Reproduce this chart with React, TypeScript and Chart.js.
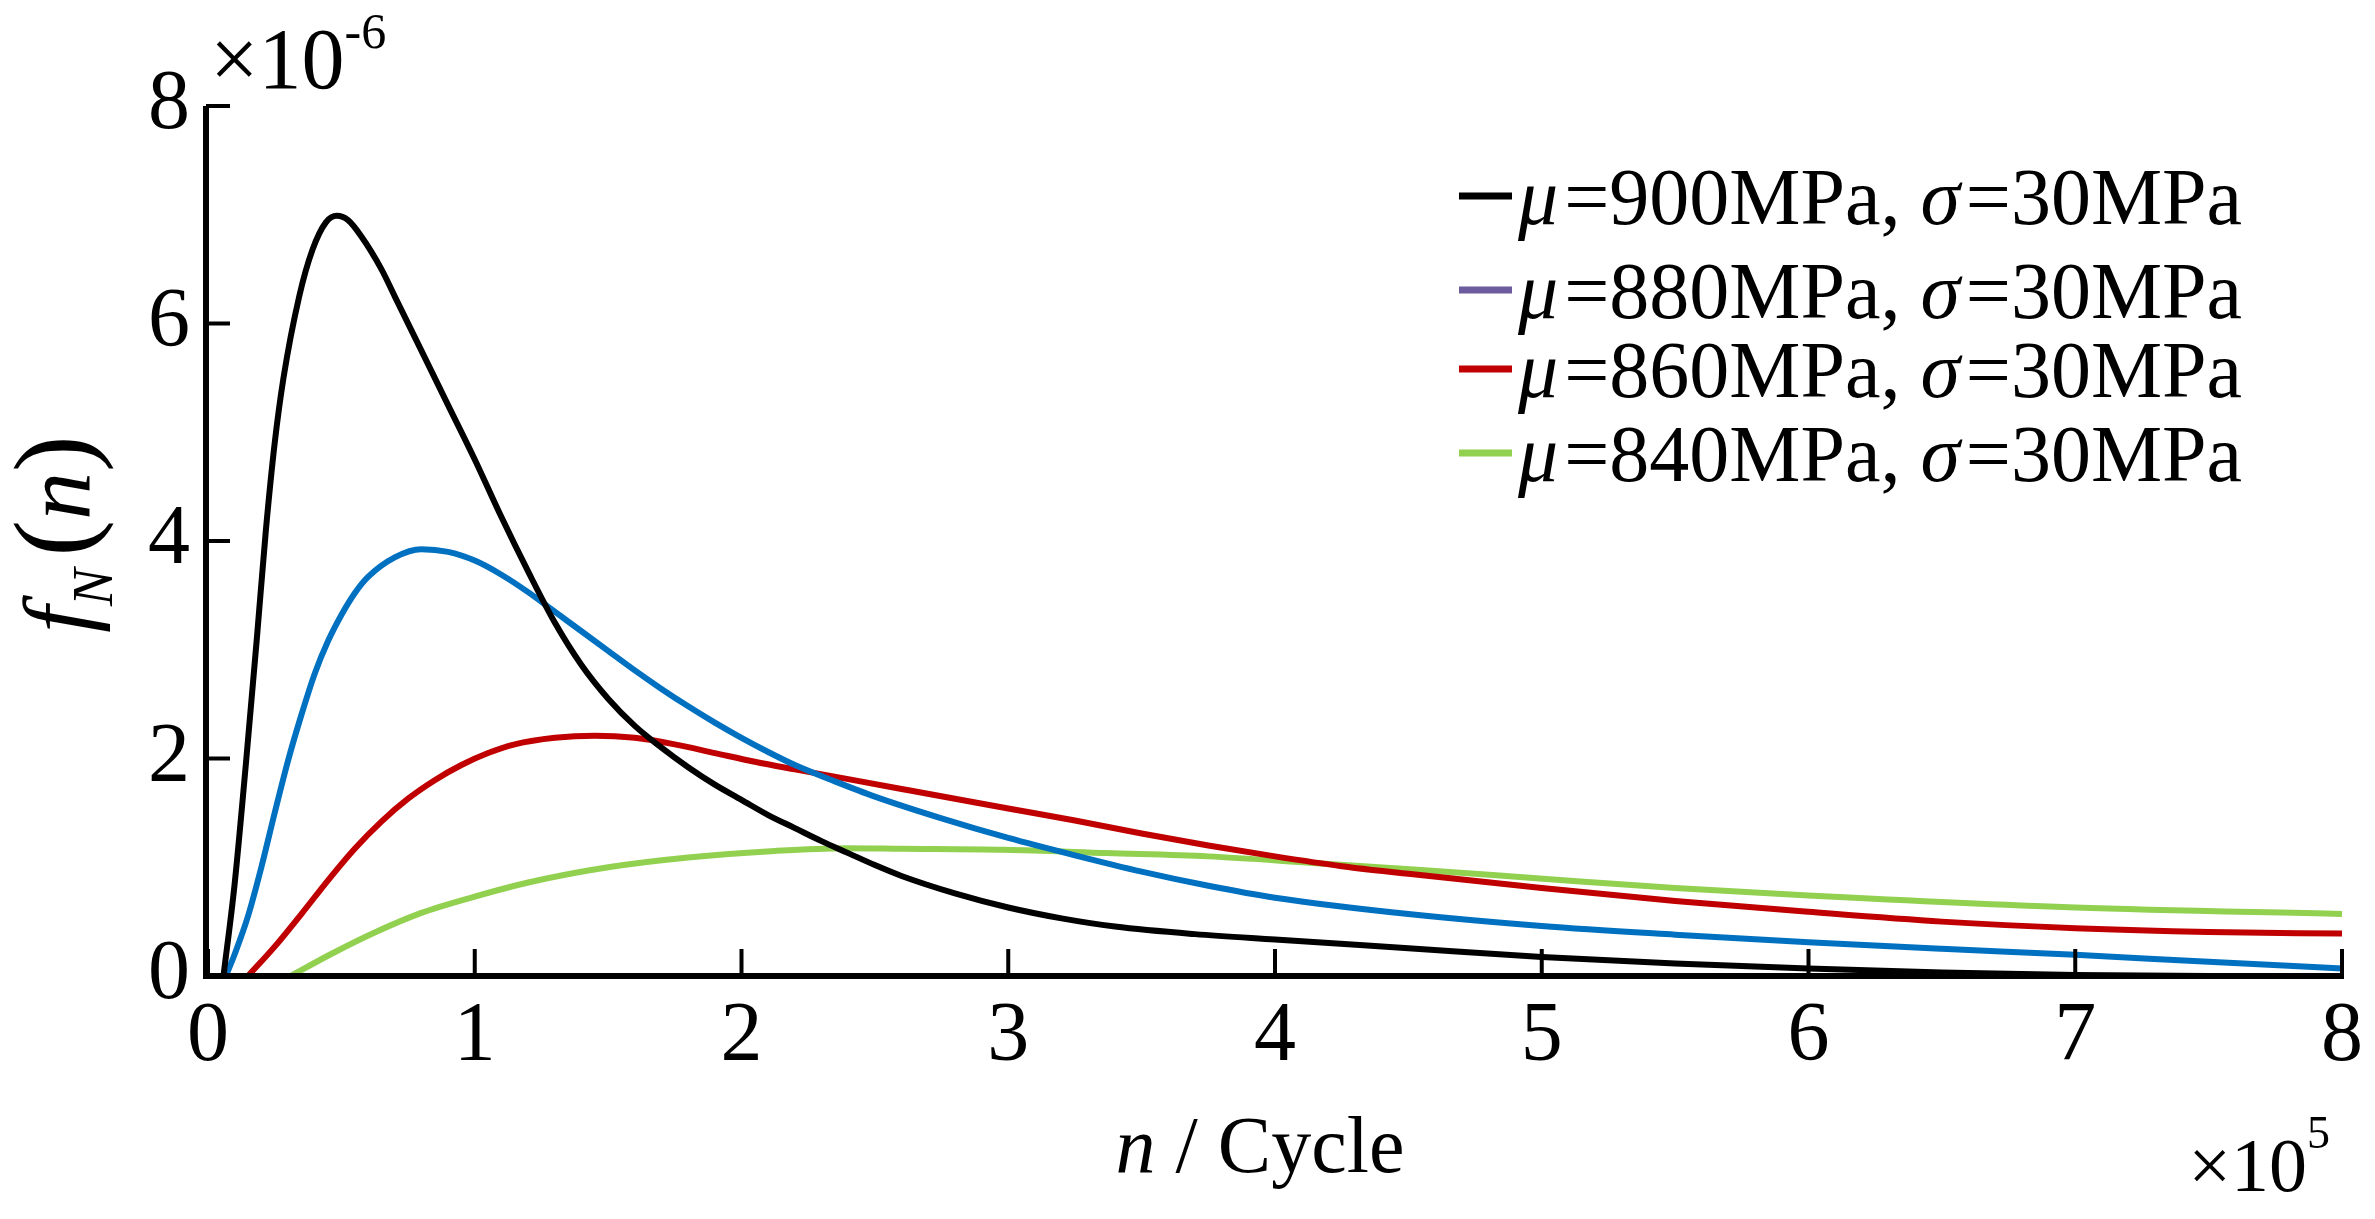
import React, { useEffect, useRef } from 'react';
import { Chart, registerables } from 'chart.js';

Chart.register(...registerables);

// ---------- data (x in units of 10^5 cycles, y in units of 10^-6) ----------
const xTickValues = [0, 1, 2, 3, 4, 5, 6, 7, 8];
const yTickValues = [0, 2, 4, 6, 8];

const seriesLabels = [
  'μ=900MPa, σ=30MPa',
  'μ=880MPa, σ=30MPa',
  'μ=860MPa, σ=30MPa',
  'μ=840MPa, σ=30MPa',
];

const lineColors = ['#000000', '#0070C0', '#C00000', '#92D050'];
const legendMarkerColors = ['#000000', '#6C5C9E', '#C00000', '#92D050'];

const x900 = [0.058, 0.1, 0.142, 0.183, 0.217, 0.25, 0.283, 0.342, 0.392, 0.442, 0.483, 0.525, 0.575, 0.65, 0.7, 0.8, 0.9, 1.0, 1.1, 1.2, 1.3, 1.4, 1.5, 1.6, 1.7, 1.8, 1.9, 2.0, 2.1, 2.2, 2.3, 2.4, 2.5, 2.6, 2.8, 3.0, 3.2, 3.4, 3.7, 4.0, 4.5, 5.0, 5.5, 6.0, 6.5, 7.0, 7.5, 8.0];
const y900 = [0, 0.85, 1.95, 3.1, 4.1, 4.9, 5.5, 6.25, 6.68, 6.93, 6.99, 6.95, 6.8, 6.5, 6.25, 5.75, 5.25, 4.75, 4.22, 3.72, 3.25, 2.86, 2.55, 2.3, 2.1, 1.92, 1.76, 1.62, 1.48, 1.36, 1.24, 1.13, 1.02, 0.92, 0.76, 0.63, 0.53, 0.455, 0.385, 0.335, 0.255, 0.175, 0.115, 0.068, 0.033, 0.01, 0.0, 0.0];

const x880 = [0.067, 0.1, 0.15, 0.2, 0.25, 0.3, 0.35, 0.4, 0.45, 0.5, 0.55, 0.6, 0.7, 0.8, 0.9, 1.0, 1.1, 1.2, 1.3, 1.4, 1.5, 1.6, 1.7, 1.8, 1.9, 2.0, 2.1, 2.2, 2.35, 2.5, 2.75, 3.0, 3.25, 3.5, 3.75, 4.0, 4.5, 5.0, 5.5, 6.0, 6.5, 7.0, 7.5, 8.0];
const y880 = [0, 0.2, 0.55, 1.0, 1.5, 1.98, 2.4, 2.78, 3.08, 3.32, 3.52, 3.67, 3.85, 3.925, 3.9, 3.82, 3.69, 3.53, 3.35, 3.17, 2.99, 2.81, 2.64, 2.48, 2.33, 2.19, 2.06, 1.94, 1.79, 1.65, 1.45, 1.27, 1.11, 0.96, 0.83, 0.72, 0.57, 0.46, 0.38, 0.31, 0.25, 0.195, 0.13, 0.07];

const x860 = [0.15, 0.25, 0.35, 0.45, 0.55, 0.65, 0.75, 0.85, 0.95, 1.05, 1.15, 1.3, 1.45, 1.6, 1.75, 1.9, 2.05, 2.2, 2.4, 2.6, 2.8, 3.0, 3.25, 3.5, 3.75, 4.0, 4.25, 4.5, 5.0, 5.5, 6.0, 6.5, 7.0, 7.5, 8.0];
const y860 = [0, 0.27, 0.57, 0.88, 1.17, 1.42, 1.63, 1.8, 1.94, 2.05, 2.13, 2.19, 2.21, 2.19, 2.13, 2.05, 1.97, 1.9, 1.81, 1.72, 1.63, 1.54, 1.43, 1.31, 1.2, 1.1, 1.01, 0.94, 0.81, 0.69, 0.59, 0.5, 0.44, 0.405, 0.39];

const x840 = [0.31, 0.46, 0.625, 0.8, 1.0, 1.2, 1.5, 1.8, 2.125, 2.39, 2.6, 2.985, 3.37, 3.75, 4.14, 4.52, 5.03, 5.5, 6.0, 7.0, 8.0];
const y840 = [0, 0.2, 0.4, 0.58, 0.73, 0.86, 1.0, 1.09, 1.15, 1.175, 1.17, 1.16, 1.13, 1.1, 1.04, 0.98, 0.89, 0.81, 0.74, 0.63, 0.57];

const seriesX = [x900, x880, x860, x840];
const seriesY = [y900, y880, y860, y840];

// ---------- styling ----------
const SERIF = '"Liberation Serif", "Times New Roman", "DejaVu Serif", serif';

type Seg = { t: string; size: number; italic?: boolean; dy?: number; gap?: number };

function fontOf(s: Seg) {
  return `${s.italic ? 'italic ' : ''}${s.size}px ${SERIF}`;
}

function drawRich(ctx: CanvasRenderingContext2D, segs: Seg[], x: number, y: number, align: 'left' | 'center' | 'right') {
  ctx.save();
  ctx.textBaseline = 'alphabetic';
  ctx.textAlign = 'left';
  const widths = segs.map((s) => {
    ctx.font = fontOf(s);
    return ctx.measureText(s.t).width + (s.gap || 0);
  });
  const total = widths.reduce((a, b) => a + b, 0);
  let cx = align === 'left' ? x : align === 'center' ? x - total / 2 : x - total;
  segs.forEach((s, i) => {
    ctx.font = fontOf(s);
    ctx.fillText(s.t, cx, y + (s.dy || 0));
    cx += widths[i];
  });
  ctx.restore();
}

function labelSegs(label: string, size: number): Seg[] {
  const segs: Seg[] = [];
  for (const ch of label) {
    const it = ch === 'μ' || ch === 'σ';
    const last = segs[segs.length - 1];
    if (last && !!last.italic === it) last.t += ch;
    else segs.push({ t: ch, size, italic: it, gap: it ? 6 : 0 });
  }
  return segs;
}

const decorPlugin = {
  id: 'decor',
  afterDatasetsDraw(chart: any) {
    const ctx: CanvasRenderingContext2D = chart.ctx;
    const { left, bottom } = chart.chartArea;
    const xs = chart.scales.x;
    const ys = chart.scales.y;
    ctx.save();
    ctx.strokeStyle = '#000';
    ctx.lineCap = 'butt';
    // axes
    ctx.lineWidth = 6;
    ctx.beginPath();
    ctx.moveTo(left - 2, ys.getPixelForValue(8));
    ctx.lineTo(left - 2, bottom + 3);
    ctx.moveTo(left - 5, bottom);
    ctx.lineTo(xs.getPixelForValue(8) + 2, bottom);
    ctx.stroke();
    // inward ticks
    ctx.lineWidth = 4;
    ctx.beginPath();
    xTickValues.forEach((v) => {
      const px = xs.getPixelForValue(v);
      ctx.moveTo(px, bottom);
      ctx.lineTo(px, bottom - 27);
    });
    yTickValues.forEach((v) => {
      const py = ys.getPixelForValue(v);
      ctx.moveTo(left - 2, py);
      ctx.lineTo(left + 22, py);
    });
    ctx.stroke();
    ctx.restore();
  },
  afterDraw(chart: any) {
    const ctx: CanvasRenderingContext2D = chart.ctx;
    const { left, right, top, bottom } = chart.chartArea;
    ctx.save();
    ctx.fillStyle = '#000';

    // exponent labels
    drawRich(ctx, [
      { t: '×10', size: 86 },
      { t: '-6', size: 50, dy: -40 },
    ], left + 2, top - 18, 'left');
    drawRich(ctx, [
      { t: '×10', size: 76 },
      { t: '5', size: 46, dy: -43 },
    ], right - 12, bottom + 215, 'right');

    // x title
    drawRich(ctx, [
      { t: 'n', size: 80, italic: true },
      { t: ' / Cycle', size: 80 },
    ], (left + right) / 2 - 15, bottom + 196, 'center');

    // y title (rotated)
    ctx.save();
    ctx.translate(left - 118, (top + bottom) / 2 - 7);
    ctx.rotate(-Math.PI / 2);
    drawRich(ctx, [
      { t: 'f', size: 96, italic: true },
      { t: 'N', size: 56, italic: true, dy: 22, gap: 12 },
      { t: '(', size: 110 },
      { t: 'n', size: 96, italic: true },
      { t: ')', size: 110 },
    ], 0, 0, 'center');
    ctx.restore();

    // legend
    const rowBase = [118, 212, 291, 375];
    seriesLabels.forEach((lab, i) => {
      const by = top + rowBase[i];
      ctx.strokeStyle = legendMarkerColors[i];
      ctx.lineWidth = 7;
      ctx.beginPath();
      ctx.moveTo(right - 883, by - 28);
      ctx.lineTo(right - 830, by - 28);
      ctx.stroke();
      drawRich(ctx, labelSegs(lab, 80), right - 824, by, 'left');
    });
    ctx.restore();
  },
};

export default function App() {
  const ref = useRef<HTMLCanvasElement | null>(null);

  useEffect(() => {
    if (!ref.current) return;
    const datasets = seriesLabels.map((lab, i) => ({
      label: lab,
      data: seriesX[i].map((x, j) => ({ x, y: seriesY[i][j] })),
      borderColor: lineColors[i],
      backgroundColor: lineColors[i],
      borderWidth: 6,
      pointRadius: 0,
      fill: false,
      cubicInterpolationMode: 'monotone' as const,
      clip: 4,
    }));
    const chart = new Chart(ref.current, {
      type: 'line',
      data: { datasets },
      options: {
        animation: false,
        responsive: true,
        maintainAspectRatio: false,
        layout: { padding: { top: 106, right: 30, left: 0, bottom: 0 } },
        plugins: { legend: { display: false }, tooltip: { enabled: false } },
        scales: {
          x: {
            type: 'linear',
            min: 0,
            max: 8,
            afterFit: (s: any) => { s.height = 243; },
            afterBuildTicks: (s: any) => { s.ticks = xTickValues.map((v) => ({ value: v })); },
            grid: { display: false, drawTicks: false },
            border: { display: false },
            ticks: { color: '#000', font: { family: SERIF, size: 84 }, padding: 12, maxRotation: 0 },
          },
          y: {
            type: 'linear',
            min: 0,
            max: 8,
            afterFit: (s: any) => { s.width = 208; },
            afterBuildTicks: (s: any) => { s.ticks = yTickValues.map((v) => ({ value: v })); },
            grid: { display: false, drawTicks: false },
            border: { display: false },
            ticks: { color: '#000', font: { family: SERIF, size: 84 }, padding: 18 },
          },
        },
      },
      plugins: [decorPlugin],
    });
    return () => chart.destroy();
  }, []);

  return (
    <div style={{ position: 'fixed', left: 0, top: 0, width: 2375, height: 1219, background: '#fff' }}>
      <canvas ref={ref} />
    </div>
  );
}
